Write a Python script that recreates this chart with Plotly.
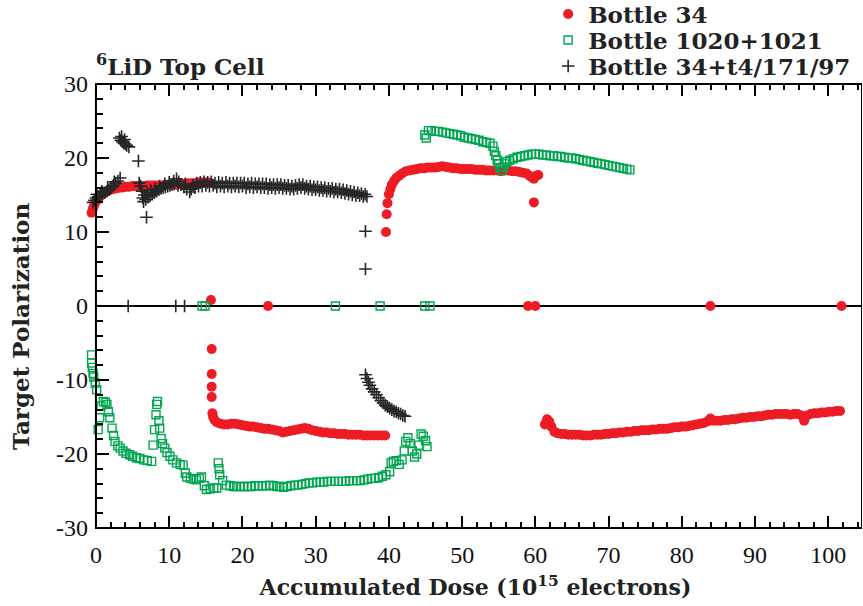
import plotly.graph_objects as go

# ---------------- data ----------------
# Bottle 34 (red filled circles)
red_x = [-0.6,-0.4,-0.2,0,0.2,0.4,0.7,1.0,1.3,1.6,2.0,2.4,2.8,3.2,3.6,4.0,4.5,5.0,5.5,6.0,6.5,7.0,7.5,8.0,8.5,9.0,9.5,10.0,10.5,11.0,11.5,12.0,12.5,13.0,13.5,14.0,14.5,15.0,15.5,
         15.7,15.8,15.8,15.8,15.8,15.9,16.0,16.2,16.5,
         17,17.5,18,18.5,19,19.5,20,20.5,21,21.5,22,22.5,23,23.5,24,24.5,25,25.5,26,26.5,27,27.5,28,28.5,29,29.5,30,30.5,31,31.5,32,32.5,33,33.5,34,34.5,35,35.5,36,36.5,37,37.5,38,38.5,39,39.5,
         39.6,39.7,39.8,40.0,40.2,40.4,40.7,41.0,41.4,41.8,42.3,42.8,43.3,43.8,44.3,44.8,45.3,45.8,46.3,46.8,47.3,47.8,48.3,48.8,49.3,49.8,50.3,50.8,51.3,51.8,52.3,52.8,53.3,53.8,54.3,54.8,55.3,55.8,56.3,56.8,57.3,57.8,58.3,58.8,59.2,59.5,59.8,60.1,60.4,59.8,
         23.5,59.0,60.0,83.9,101.8,
         61.3,61.6,61.9,62.2,62.6,63.0,63.5,64,64.5,65,65.5,66,66.5,67,67.5,68,68.5,69,69.5,70,70.5,71,71.5,72,72.5,73,73.5,74,74.5,75,75.5,76,76.5,77,77.5,78,78.5,79,79.5,80,80.5,81,81.5,82,82.5,83,83.5,83.9,84.3,84.8,85.3,85.8,86.3,86.8,87.3,87.8,88.3,88.8,89.3,89.8,90.3,90.8,91.3,91.8,92.3,92.8,93.3,93.8,94.3,94.8,95.3,95.8,96.3,96.7,97.1,97.6,98.1,98.6,99.1,99.6,100.1,100.6,101.1,101.6]
red_y = [12.6,13.2,13.7,14.1,14.4,14.7,15.0,15.2,15.4,15.5,15.7,15.8,15.9,16.0,16.0,16.1,16.1,16.2,16.2,16.2,16.2,16.3,16.3,16.3,16.3,16.3,16.4,16.4,16.4,16.4,16.5,16.5,16.6,16.6,16.6,16.7,16.7,16.7,16.7,
         0.8,-5.8,-9.2,-10.9,-12.3,-14.5,-15.0,-15.4,-15.7,
         -15.9,-16.0,-16.0,-15.9,-15.9,-16.0,-16.1,-16.2,-16.3,-16.3,-16.4,-16.5,-16.6,-16.6,-16.7,-16.8,-16.9,-17.1,-17.0,-16.9,-16.8,-16.7,-16.6,-16.5,-16.6,-16.8,-16.9,-17.0,-17.1,-17.1,-17.2,-17.2,-17.3,-17.3,-17.3,-17.4,-17.4,-17.4,-17.4,-17.5,-17.5,-17.5,-17.5,-17.5,-17.5,-17.5,
         10.0,12.4,13.9,15.1,15.8,16.4,16.9,17.3,17.6,17.9,18.2,18.3,18.4,18.5,18.6,18.6,18.7,18.7,18.7,18.8,18.9,18.8,18.7,18.6,18.6,18.5,18.5,18.5,18.5,18.4,18.4,18.4,18.3,18.3,18.3,18.3,18.2,18.3,18.3,18.2,18.2,18.1,18.0,17.9,17.6,17.4,17.2,17.6,17.7,14.0,
         0,0,0,0,0,
         -16.0,-15.3,-15.6,-16.3,-17.0,-17.2,-17.3,-17.3,-17.4,-17.4,-17.4,-17.4,-17.5,-17.5,-17.5,-17.4,-17.4,-17.4,-17.3,-17.3,-17.2,-17.2,-17.1,-17.1,-17.0,-17.0,-16.9,-16.9,-16.8,-16.8,-16.8,-16.7,-16.7,-16.6,-16.6,-16.6,-16.5,-16.4,-16.4,-16.3,-16.3,-16.2,-16.1,-16.0,-15.9,-15.8,-15.6,-15.2,-15.5,-15.5,-15.5,-15.4,-15.4,-15.3,-15.3,-15.2,-15.1,-15.1,-15.0,-15.0,-14.9,-14.9,-14.8,-14.7,-14.7,-14.6,-14.6,-14.6,-14.6,-14.7,-14.6,-14.6,-14.8,-15.5,-14.8,-14.6,-14.5,-14.5,-14.4,-14.4,-14.3,-14.3,-14.2,-14.2]

# Bottle 1020+1021 (green open squares)
green_x = [-0.6,-0.6,-0.5,-0.4,-0.3,-0.1,0.1,0.3,0.5,0.7,1.0,1.3,1.5,1.7,1.9,2.2,2.4,2.6,3.0,3.3,3.7,4.1,4.6,5.0,5.5,6.0,6.5,7.0,7.6,7.8,8.0,8.2,8.3,8.4,8.6,8.7,8.9,9.1,9.4,9.7,10.1,10.5,11.0,11.5,11.9,12.2,12.4,12.9,13.3,13.7,14.1,14.4,14.8,15.1,15.6,16.1,16.5,16.7,16.8,16.9,17.3,17.8,18.3,18.8,19.2,19.7,20.2,20.7,21.2,21.7,22.2,22.7,23.2,23.7,24.2,24.7,25.1,25.6,26.1,26.6,27.1,27.6,28.1,28.6,29.1,29.6,30.1,30.6,31.1,31.6,32.1,32.6,33.1,33.6,34.1,34.6,35.1,35.6,36.1,36.6,37.1,37.6,38.1,38.6,39.1,39.6,40.1,40.3,40.6,41.0,41.4,41.8,42.1,42.3,42.6,42.9,43.2,43.5,43.8,44.1,44.4,44.7,45.0,45.2,
           14.5,14.9,32.7,38.8,44.9,45.6,
           44.9,45.1,45.4,45.8,46.3,46.8,47.3,47.8,48.3,48.8,49.3,49.8,50.3,50.8,51.3,51.8,52.3,52.8,53.3,53.8,54.2,54.4,54.6,54.8,55.0,55.2,55.4,55.6,55.8,56.1,56.5,57.0,57.5,58.0,58.5,59.0,59.5,60.0,60.5,61.0,61.5,62.0,62.5,63.0,63.5,64.0,64.5,65.0,65.5,66.0,66.5,67.0,67.5,68.0,68.5,69.0,69.5,70.0,70.5,71.0,71.5,72.0,72.5,72.9]
green_y = [-6.6,-7.7,-8.3,-9.1,-9.6,-10.4,-11.3,-16.7,-15.1,-13.5,-12.9,-13.0,-13.3,-14.3,-15.1,-16.5,-17.5,-18.3,-18.9,-19.2,-19.6,-19.9,-20.1,-20.3,-20.5,-20.6,-20.8,-20.9,-21.0,-18.8,-16.7,-14.7,-13.3,-12.9,-15.5,-16.5,-17.9,-18.6,-19.2,-19.8,-20.3,-20.8,-21.2,-21.4,-21.5,-22.6,-23.1,-23.3,-23.4,-23.5,-23.3,-23.1,-24.3,-24.8,-24.7,-24.6,-24.6,-21.2,-22.0,-22.8,-23.6,-24.2,-24.3,-24.4,-24.4,-24.4,-24.4,-24.4,-24.4,-24.3,-24.3,-24.3,-24.3,-24.2,-24.3,-24.4,-24.4,-24.5,-24.4,-24.3,-24.2,-24.2,-24.1,-24.0,-23.9,-23.9,-23.8,-23.8,-23.8,-23.7,-23.7,-23.7,-23.7,-23.7,-23.7,-23.6,-23.6,-23.6,-23.6,-23.5,-23.4,-23.3,-23.3,-23.2,-23.0,-22.8,-22.4,-21.2,-21.0,-20.9,-21.4,-20.8,-19.6,-18.3,-17.8,-18.6,-19.6,-20.4,-20.0,-18.8,-17.3,-17.6,-18.2,-19.0,
           0,0,0,0,0,0,
           23.1,22.7,23.7,23.7,23.6,23.6,23.5,23.4,23.3,23.2,23.1,23.0,22.8,22.7,22.6,22.5,22.4,22.2,22.1,22.0,21.6,20.9,20.3,19.7,19.2,18.7,18.3,18.8,19.2,19.5,19.7,19.9,20.1,20.2,20.3,20.4,20.5,20.5,20.5,20.4,20.4,20.3,20.3,20.2,20.2,20.1,20.0,20.0,19.9,19.8,19.7,19.6,19.5,19.4,19.3,19.2,19.1,19.0,18.9,18.8,18.7,18.6,18.5,18.4]

# Bottle 34+t4/171/97 (dark crosses)
black_x = [-0.4,-0.2,0,0.3,0.6,0.9,1.2,1.5,1.8,2.1,2.4,2.7,3.0,3.3,0.1,0.8,1.6,2.5,
           3.2,3.4,3.6,3.8,4.0,4.2,4.5,3.5,3.9,5.8,6.9,
           5.9,6.1,6.3,6.4,6.5,6.8,7.1,7.4,7.7,8.0,8.3,8.6,8.9,9.2,9.5,9.8,10.1,10.4,10.7,11.0,11.3,11.6,12.0,12.4,12.8,
           6.6,7.0,7.5,8.1,8.7,9.4,10.0,10.6,11.2,12.2,
           13.0,13.25,13.5,13.75,14.0,14.25,14.5,14.75,15.0,15.25,15.5,15.75,16.0,16.25,16.5,16.75,17.0,17.25,17.5,17.75,18.0,18.25,18.5,18.75,19.0,19.25,19.5,19.75,20.0,20.25,20.5,20.75,21.0,21.25,21.5,21.75,22.0,22.25,22.5,22.75,23.0,23.25,23.5,23.75,24.0,24.25,24.5,24.75,25.0,25.25,25.5,25.75,26.0,26.25,26.5,26.75,27.0,27.25,27.5,27.75,28.0,28.25,28.5,28.75,29.0,29.25,29.5,29.75,30.0,30.25,30.5,30.75,31.0,31.25,31.5,31.75,32.0,32.25,32.5,32.75,33.0,33.25,33.5,33.75,34.0,34.25,34.5,34.75,35.0,35.25,35.5,35.75,36.0,36.25,36.5,36.75,37.0,
           36.8,36.8,4.4,10.9,12.1,
           36.8,37.0,37.2,37.4,37.7,38.0,38.3,38.6,38.9,39.2,39.5,39.8,40.1,40.4,40.7,41.0,41.3,41.6,41.9,42.2]
black_y = [14.0,14.3,14.6,14.8,15.0,15.1,15.3,15.5,15.7,16.0,16.3,16.6,16.9,17.3,15.1,15.5,16.0,16.8,
           22.7,22.4,22.2,22.0,21.9,21.7,21.5,22.9,22.5,19.6,12.0,
           16.6,16.2,15.5,14.6,14.1,14.4,14.7,14.9,15.1,15.3,15.5,15.7,15.9,16.0,16.1,16.2,16.3,16.4,16.5,17.2,16.8,16.4,16.1,15.8,15.4,
           15.0,15.3,15.6,15.8,16.2,16.5,16.7,16.9,16.3,16.5,
           15.8,16.3,16.0,16.6,16.2,16.7,16.2,16.8,16.3,16.7,16.2,16.8,16.3,16.6,16.1,16.7,16.2,16.6,16.1,16.7,16.2,16.6,16.1,16.6,16.2,16.6,16.1,16.6,16.2,16.6,16.0,16.5,16.1,16.6,16.0,16.5,16.1,16.5,16.0,16.5,16.0,16.5,15.9,16.4,16.0,16.4,15.9,16.4,16.0,16.4,15.9,16.3,15.9,16.3,15.8,16.2,15.8,16.3,15.9,16.4,16.0,16.4,15.9,16.2,15.8,16.2,15.7,16.1,15.7,16.1,15.6,16.0,15.6,16.0,15.5,15.9,15.5,15.9,15.4,15.8,15.4,15.8,15.3,15.7,15.2,15.6,15.1,15.5,15.0,15.4,14.9,15.3,14.9,15.2,14.8,15.1,14.8,
           10.1,5.0,0,0,0,
           -9.3,-9.8,-10.3,-10.7,-11.2,-11.6,-12.0,-12.4,-12.8,-13.1,-13.4,-13.6,-13.8,-14.0,-14.2,-14.3,-14.5,-14.6,-14.8,-14.9]

series_names = ["Bottle 34", "Bottle 1020+1021", "Bottle 34+t4/171/97"]
y_tick_vals = [-30, -20, -10, 0, 10, 20, 30]
y_tick_text = ["-30", "-20", "-10", "0", "10", "20", "30"]
x_tick_vals = [0, 10, 20, 30, 40, 50, 60, 70, 80, 90, 100]
x_min, x_max = 0, 104.6
x_view_min = -0.95   # lets points slightly left of x=0 show, as in the original

# ---------------- styling ----------------
RED = "#ED1C24"
GREEN = "#00A650"
DARK = "#262626"
BOLD = dict(family="DejaVu Serif", size=23, color="#222222", weight="bold")
BOLD_X = dict(family="DejaVu Serif", size=22, color="#222222", weight="bold")
TICK_FONT = dict(family="Liberation Serif", size=24, color="#111111")

fig = go.Figure()
fig.add_trace(go.Scatter(x=red_x, y=red_y, mode="markers", name=series_names[0],
                         cliponaxis=False, legend="legend",
                         marker=dict(symbol="circle", size=10, color=RED, line=dict(width=0))))
fig.add_trace(go.Scatter(x=green_x, y=green_y, mode="markers", name=series_names[1],
                         cliponaxis=False, legend="legend2",
                         marker=dict(symbol="square-open", size=8, color=GREEN,
                                     line=dict(width=1.4, color=GREEN))))
fig.add_trace(go.Scatter(x=black_x, y=black_y, mode="markers", name=series_names[2],
                         cliponaxis=False, legend="legend3",
                         marker=dict(symbol="cross-thin", size=9, color=DARK,
                                     line=dict(width=1.6, color=DARK))))

tick_common = dict(ticks="inside", ticklen=12, tickwidth=2, tickcolor="black",
                   showgrid=False, showline=False, mirror="ticks", tickfont=TICK_FONT)
minor = dict(dtick=2, ticks="inside", ticklen=6, tickwidth=2, tickcolor="black")

frac0 = (x_min - x_view_min) / (x_max - x_view_min)

fig.update_xaxes(**tick_common, range=[x_view_min, x_max], tickvals=x_tick_vals, minor=minor,
                 zeroline=False, ticklabelstandoff=10,
                 title=dict(text="Accumulated Dose (10<sup>15</sup> electrons)", font=BOLD_X, standoff=12))
fig.update_yaxes(**tick_common, range=[-30, 30], tickvals=y_tick_vals, ticktext=y_tick_text,
                 minor=minor, anchor="free", position=frac0,
                 zeroline=False, ticklabelstandoff=8)

# y-axis title placed as rotated text left of the tick labels
fig.add_annotation(text="Target Polarization", xref="paper", yref="paper",
                   x=(20 - 89) / 773, y=0.4527, xanchor="center", yanchor="middle",
                   textangle=-90, showarrow=False, font=BOLD)

# plot frame and zero line
fig.add_shape(type="rect", xref="x", yref="paper", x0=x_min, x1=x_max, y0=0, y1=1,
              line=dict(color="black", width=2), layer="above")
fig.add_shape(type="line", xref="x", yref="y", x0=x_min, x1=x_max, y0=0, y1=0,
              line=dict(color="black", width=2), layer="below")

fig.add_annotation(text="<sup>6</sup>LiD Top Cell", xref="paper", yref="paper",
                   x=frac0, y=1, xanchor="left", yanchor="bottom", yshift=2, xshift=-2,
                   showarrow=False, font=BOLD)

leg_common = dict(x=0.594, xanchor="left", yanchor="middle", font=BOLD,
                  bgcolor="rgba(0,0,0,0)", itemwidth=30)
fig.update_layout(
    width=863, height=606,
    margin=dict(l=89, r=1, t=84, b=78, autoexpand=False),
    plot_bgcolor="white", paper_bgcolor="white",
    legend=dict(**leg_common, y=1.1577),
    legend2=dict(**leg_common, y=1.0991),
    legend3=dict(**leg_common, y=1.0405),
    showlegend=True,
)

fig.write_html("out.html")
